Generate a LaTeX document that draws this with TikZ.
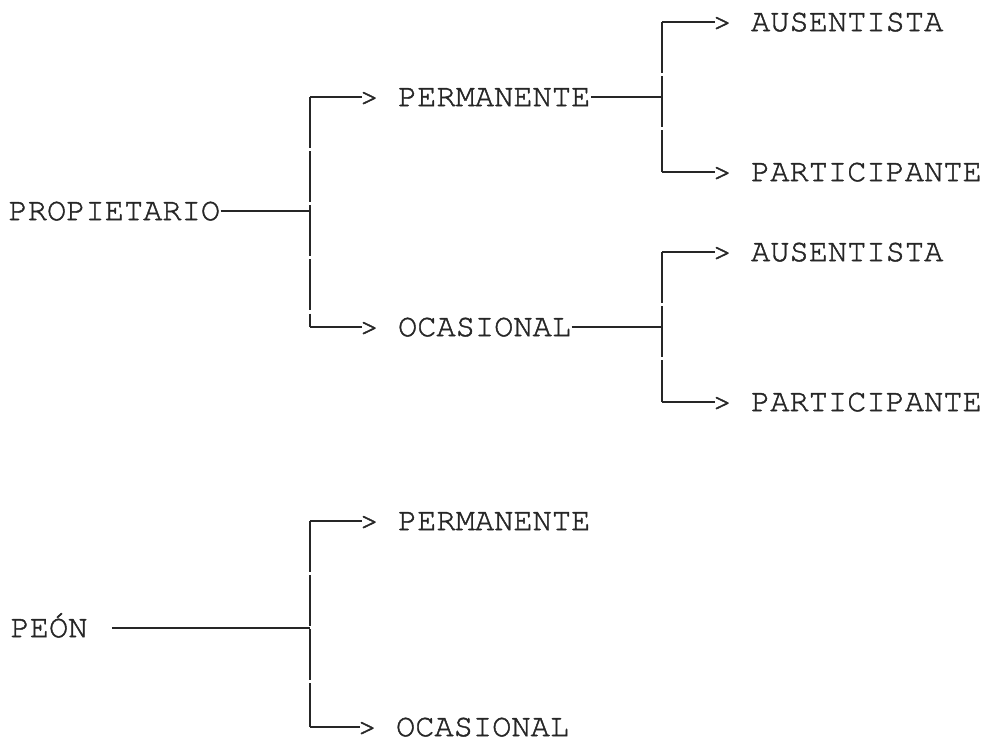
\documentclass[tikz,border=0pt]{standalone}
\usepackage{fontspec}
\setmonofont[FakeBold=1.3]{TeX Gyre Cursor}
\usepackage{tikz}
\usetikzlibrary{positioning}

\begin{document}
\begin{tikzpicture}[x=0.25mm, y=-0.25mm, line width=0.8pt, black!85,
    lbl/.style={inner sep=0pt, anchor=west, text height=13pt, text depth=0pt,
      font=\ttfamily\fontsize{22.8}{27}\selectfont},
    wire/.style={line cap=butt},
    vwire/.style={dash pattern=on 36 off 2.5}]
    \useasboundingbox (0,0) rectangle (996,748);
    % Roots
    \node[lbl] (prop) at (8,211) {PROPIETARIO};
    \node[lbl] (peon) at (10,628) {PEÓN};
    \coordinate (j1) at (310,211);
    \coordinate (j4) at (310,628);
    % First level
    \node[lbl] (perm1) at (359,97) {> PERMANENTE};
    \node[lbl] (ocas1) at (359,327) {> OCASIONAL};
    \node[lbl] (perm2) at (359,521) {> PERMANENTE};
    \node[lbl] (ocas2) at (357,727) {> OCASIONAL};
    \coordinate (j2) at (662,97);
    \coordinate (j3) at (662,327);
    % Second level
    \node[lbl] (aus1) at (712,22) {> AUSENTISTA};
    \node[lbl] (par1) at (712,172) {> PARTICIPANTE};
    \node[lbl] (aus2) at (712,252) {> AUSENTISTA};
    \node[lbl] (par2) at (712,402) {> PARTICIPANTE};

    % Stems
    \draw[wire] (prop.east) -- (j1);
    \draw[wire] ([xshift=17]peon.east) -- (j4);
    \draw[wire] (perm1.east) -- (j2);
    \draw[wire] (ocas1.east) -- (j3);
    % Brackets
    \foreach \up/\lo/\j in {perm1/ocas1/j1, perm2/ocas2/j4, aus1/par1/j2, aus2/par2/j3}{
      \draw[wire] ([xshift=2]\up.west) -- (\up.west -| \j);
      \draw[vwire] (\up.west -| \j) -- (\lo.west -| \j);
      \draw[wire] (\lo.west -| \j) -- ([xshift=2]\lo.west);
    }
  \end{tikzpicture}
\end{document}
